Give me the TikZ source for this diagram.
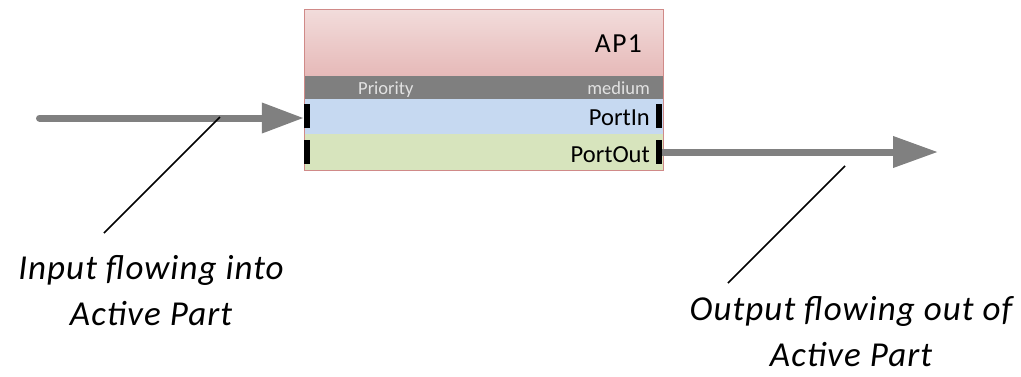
\documentclass[tikz,border=0pt]{standalone}
\usepackage{fontspec}
\setmainfont{Carlito}
\newfontfamily\carl{Carlito}
\newfontfamily\carlsp[LetterSpace=3]{Carlito}
\newfontfamily\carlwide[LetterSpace=5]{Carlito}
\usetikzlibrary{arrows.meta}
\definecolor{hdrtop}{HTML}{F2DCDB}
\definecolor{hdrbot}{HTML}{E6B9B8}
\definecolor{frame}{HTML}{D08A88}
\definecolor{prio}{HTML}{7F7F7F}
\definecolor{prtxt}{HTML}{E2E2E2}
\definecolor{inband}{HTML}{C6D9F1}
\definecolor{outband}{HTML}{D7E4BD}
\definecolor{arrowgray}{HTML}{808080}
\tikzset{
  band/.style={anchor=north west, inner sep=0pt, minimum width=359pt},
  port/.style={fill=black, inner sep=0pt, minimum width=6pt, minimum height=24pt},
  flow/.style={draw=arrowgray, line width=7pt, line cap=round},
  callout/.style={draw=black, line width=1.5pt},
  lbl/.style={inner sep=0pt, font=\carlsp\itshape\fontsize{35}{46}\selectfont, align=center},
}
\begin{document}
\begin{tikzpicture}[x=1pt,y=-1pt]
\useasboundingbox (0,0) rectangle (1021,376);
% bands
\node[band, minimum height=67pt, top color=hdrtop, bottom color=hdrbot] (hdr) at (304,9) {};
\node[band, minimum height=23pt, fill=prio] (prio) at (304,76) {};
\node[band, minimum height=35pt, fill=inband] (pin) at (304,99) {};
\node[band, minimum height=36pt, fill=outband] (pout) at (304,134) {};
\node[draw=frame, line width=1pt, anchor=north west, inner sep=0pt, minimum width=359pt, minimum height=161pt] (ap) at (304,9) {};
% texts in box
\node[anchor=base east, inner sep=0pt, font=\carlwide\fontsize{27.5}{30}\selectfont] (t1) at (642,52) {AP1};
\node[anchor=base west, inner sep=0pt, text=prtxt, font=\carl\fontsize{18.5}{22}\selectfont] (t2) at (358,94) {Priority};
\node[anchor=base east, inner sep=0pt, text=prtxt, font=\carl\fontsize{18.5}{22}\selectfont] (t3) at (650,94) {medium};
\node[anchor=base east, inner sep=0pt, font=\carl\fontsize{24.5}{28}\selectfont] (t4) at (650,125) {PortIn};
\node[anchor=base east, inner sep=0pt, font=\carl\fontsize{24.5}{28}\selectfont] (t5) at (650,162) {PortOut};
% arrows
\coordinate (inStart) at (39.5,118);
\coordinate (outEnd) at (938,152);
\node[port] (inL) at (307,116) {};
\node[port] (inR) at (659,116) {};
\node[port] (outL) at (307,152) {};
\node[port] (outR) at (659,152) {};
\draw[flow, -{Triangle[length=42pt,width=29pt]}] (inStart) -- (inStart -| inL.west);
\draw[flow, line cap=butt, -{Triangle[length=45pt,width=30pt]}] (outR.east) -- (outEnd);
% labels
\node[lbl] (inLabel) at (151,291) {Input flowing into\\Active Part};
\node[lbl] (outLabel) at (851,332) {Output flowing out of\\Active Part};
\coordinate (c1a) at (220,117);
\coordinate (c1b) at (104,233);
\coordinate (c2a) at (845,166);
\coordinate (c2b) at (728,283);
\draw[callout] (c1a) -- (c1b);
\draw[callout] (c2a) -- (c2b);
\end{tikzpicture}
\end{document}
